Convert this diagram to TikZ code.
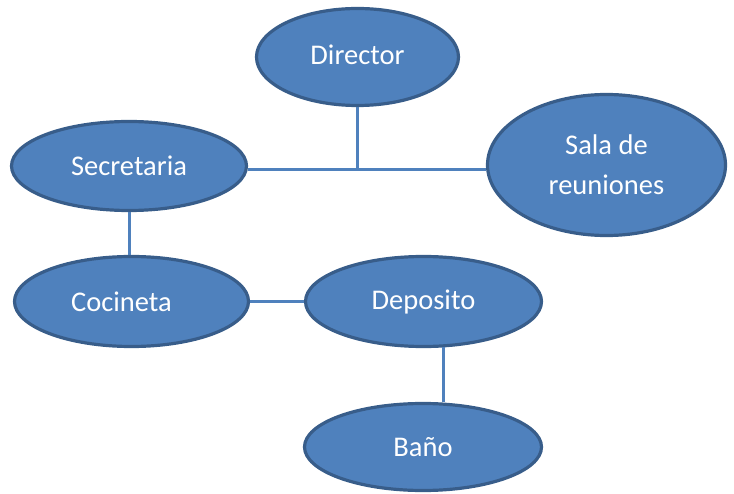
\documentclass[tikz,border=0pt]{standalone}
\usepackage{fontspec}
\setmainfont{Carlito}
\usetikzlibrary{shapes.geometric}
\definecolor{boxfill}{HTML}{4F81BD}
\definecolor{boxline}{HTML}{385D8A}
\definecolor{connline}{HTML}{4F81BD}
\tikzset{
  room/.style={ellipse, draw=boxline, fill=boxfill, line width=3.2pt, inner sep=0pt,
    text=white, align=center, font=\fontsize{28.5}{40}\selectfont},
  conn/.style={draw=connline, line width=3pt}
}
\begin{document}
\begin{tikzpicture}[x=1pt,y=-1pt]
\useasboundingbox (0,0) rectangle (734,494);
\node[room, minimum width=202pt, minimum height=97pt] (dir) at (357.5,57) {\raisebox{4pt}{Director}};
\node[room, minimum width=235pt, minimum height=89pt] (sec) at (129,166) {Secretaria};
\node[room, minimum width=238pt, minimum height=141pt] (sala) at (606.5,165) {Sala de\\reuniones};
\node[room, minimum width=234pt, minimum height=90pt] (coc) at (131.5,301.5) {Cocineta\hspace*{20pt}};
\node[room, minimum width=236pt, minimum height=90pt] (dep) at (423.5,301.5) {Deposito};
\node[room, minimum width=237pt, minimum height=87pt] (bano) at (423,447) {Baño};
\coordinate (j) at (357.5,170);
\draw[conn] (dir.south) -- (j);
\draw[conn] (j -| sec.east) -- (j -| sala.west);
\draw[conn] (sec.south) -- (sec.south |- coc.north);
\draw[conn] (coc.east) -- (dep.west);
\path (dep.south) ++(19.5,-1) coordinate (d1);
\draw[conn] (d1) -- (d1 |- bano.north);
\end{tikzpicture}
\end{document}
